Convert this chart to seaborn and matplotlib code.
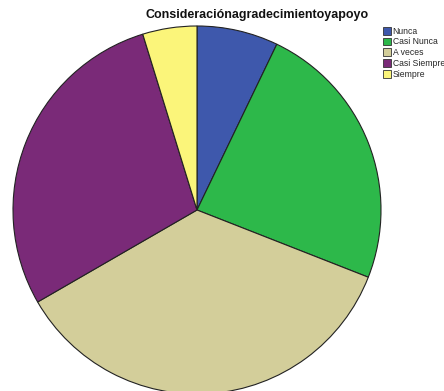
import matplotlib
matplotlib.use("Agg")
import matplotlib.pyplot as plt
import seaborn as sns
from matplotlib.patches import Patch

categories = ["Nunca", "Casi Nunca", "A veces", "Casi Siempre", "Siempre"]
counts = [3, 10, 15, 12, 2]
colors = ["#3E58AC", "#2DB84A", "#D3CE9A", "#7A2A78", "#FBF57A"]
title = "Consideraciónagradecimientoyapoyo"

sns.set_theme(style="white")
plt.rcParams["font.family"] = ["Liberation Sans", "DejaVu Sans"]
palette = sns.color_palette(colors)

W, H = 444, 391
fig = plt.figure(figsize=(W / 100, H / 100), dpi=100)
ax = fig.add_axes([0, 0, 1, 1])

ax.pie(counts, colors=palette, startangle=90, counterclock=False,
       center=(197, H - 210), radius=184,
       wedgeprops=dict(edgecolor="#222222", linewidth=0.8))
ax.set_xlim(0, W)
ax.set_ylim(0, H)
ax.set_aspect("equal", adjustable="box")
ax.axis("off")

fig.text(257 / W, 1 - 15 / H, title, ha="center", va="center",
         fontsize=9, fontweight="bold", color="#111111")

handles = [Patch(facecolor=c, edgecolor="#333333", linewidth=0.6) for c in palette]
leg = fig.legend(handles, categories, loc="upper left",
                 bbox_to_anchor=(381 / W, 1 - 25 / H), frameon=False,
                 fontsize=6.2, handlelength=1.0, handleheight=1.0,
                 handletextpad=0.15, labelspacing=0.2, borderpad=0.2,
                 borderaxespad=0)

fig.savefig("out.png", dpi=100)
